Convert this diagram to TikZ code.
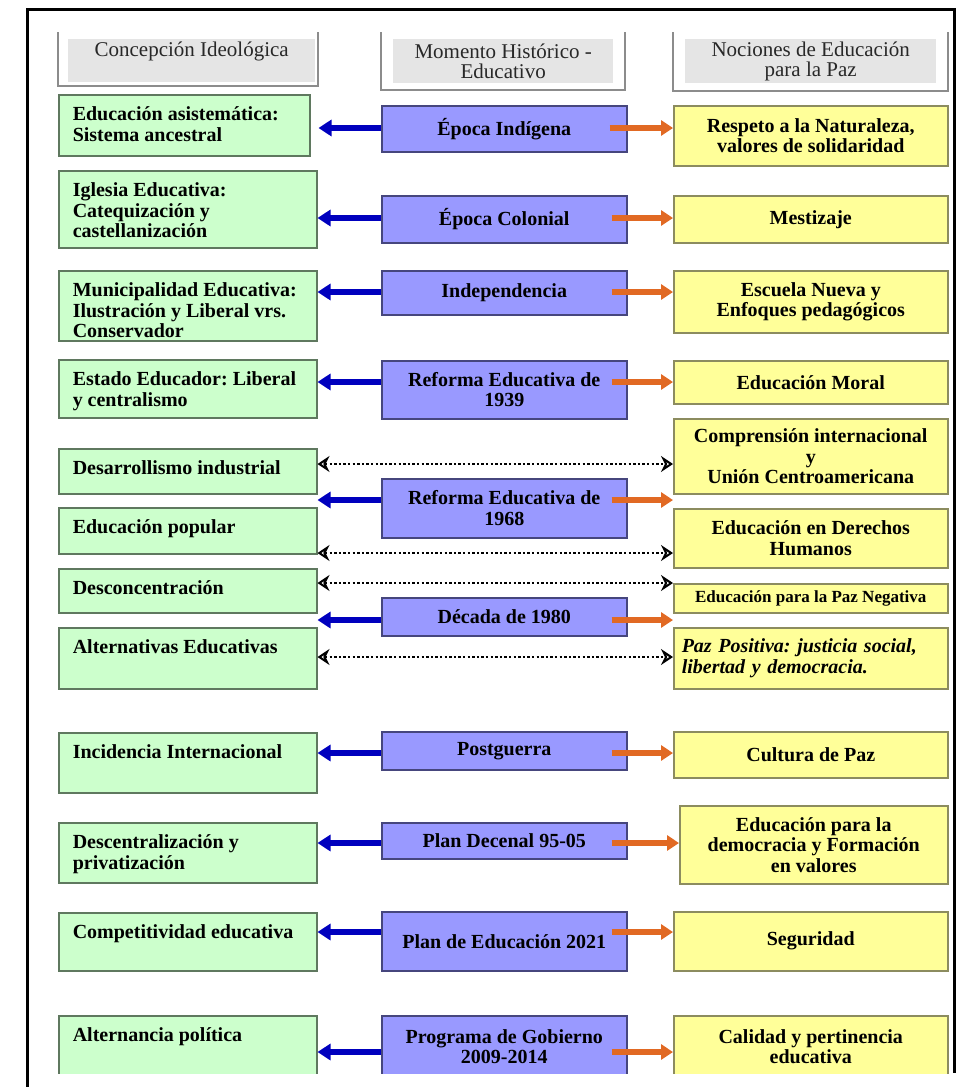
\documentclass[tikz,border=0pt]{standalone}
\usepackage{fontspec}
\setmainfont{Liberation Serif}
\usetikzlibrary{arrows.meta}
\frenchspacing

\definecolor{ideafill}{RGB}{204,255,204}
\definecolor{ideadraw}{RGB}{95,120,95}
\definecolor{epochfill}{RGB}{153,153,255}
\definecolor{epochdraw}{RGB}{70,70,125}
\definecolor{peacefill}{RGB}{255,255,153}
\definecolor{peacedraw}{RGB}{140,140,95}
\definecolor{headfill}{RGB}{229,229,229}
\definecolor{headline}{RGB}{140,140,140}
\definecolor{headtext}{RGB}{40,40,40}
\definecolor{leftblue}{RGB}{0,0,190}
\definecolor{rightorange}{RGB}{225,105,35}

\newcommand\ideatext[3]{\parbox[c][#1pt][t]{#2pt}{\raggedright\leftskip=14pt\rule{0pt}{26pt}#3}}

\tikzset{
  cell/.style={anchor=north west, inner sep=0pt, line width=1.5pt, font=\bfseries\fontsize{20}{20.5}\selectfont},
  idea/.style={cell, draw=ideadraw, fill=ideafill},
  epoch/.style={cell, draw=epochdraw, fill=epochfill, align=center, minimum width=245pt},
  peace/.style={cell, draw=peacedraw, fill=peacefill, align=center, minimum width=274pt},
  colhead/.style={anchor=north west, inner sep=0pt, fill=headfill, text=headtext, align=center, font=\fontsize{21}{20.5}\selectfont},
  headframe/.style={draw=headline, line width=2pt},
  toleft/.style={draw=leftblue, line width=6.5pt, -{Triangle[length=13pt,width=16pt]}},
  toright/.style={draw=rightorange, line width=6pt, -{Triangle[length=12pt,width=15pt]}},
  linked/.style={line width=2.4pt, dash pattern=on 2.4pt off 2.2pt, {Stealth[open,length=12pt,width=16pt]}-{Stealth[open,length=12pt,width=16pt]}},
  pageframe/.style={line width=3pt}
}

\begin{document}
\begin{tikzpicture}[x=1pt,y=-1pt]
    \useasboundingbox (0,0) rectangle (958,1087);
    \draw[pageframe] (27,1087) -- (27,9) -- (954,9) -- (954,1073);

    \begin{scope}
    \clip (0,0) rectangle (958,1073);
    % column headings
    \node[colhead, minimum width=247pt, minimum height=43pt, text height=17pt, text depth=26pt] (hideas) at (68,39) {Concepción Ideológica};
    \node[colhead, minimum width=220pt, minimum height=44pt] (hmoments) at (393,39) {Momento Histórico -\\Educativo};
    \node[colhead, minimum width=251pt, minimum height=44pt] (hnotions) at (685,39) {Nociones de Educación\\para la Paz};
    \draw[headframe] (58,32) |- (318,86) -- (318,32);
    \draw[headframe] (381,32) |- (625,90) -- (625,32);
    \draw[headframe] (673,32) |- (948,91) -- (948,32);

    % concepción ideológica
    \node[idea] (g1) at (58,94) {\ideatext{61}{251}{Educación asistemática:\\Sistema ancestral}};
    \node[idea] (g2) at (58,170) {\ideatext{77}{258}{Iglesia Educativa:\\Catequización y\\castellanización}};
    \node[idea] (g3) at (58,270) {\ideatext{70}{258}{Municipalidad Educativa:\\Ilustración y Liberal vrs.\\Conservador}};
    \node[idea] (g4) at (58,359) {\ideatext{58}{258}{Estado Educador: Liberal\\y centralismo}};
    \node[idea] (g5) at (58,448) {\ideatext{45}{258}{Desarrollismo industrial}};
    \node[idea] (g6) at (58,507) {\ideatext{46}{258}{Educación popular}};
    \node[idea] (g7) at (58,568) {\ideatext{44}{258}{Desconcentración}};
    \node[idea] (g8) at (58,627) {\ideatext{61}{258}{Alternativas Educativas}};
    \node[idea] (g9) at (58,732) {\ideatext{60}{258}{Incidencia Internacional}};
    \node[idea] (g10) at (58,822) {\ideatext{60}{258}{Descentralización y\\privatización}};
    \node[idea] (g11) at (58,912) {\ideatext{58}{258}{Competitividad educativa}};
    \node[idea] (g12) at (58,1015) {\ideatext{70}{258}{Alternancia política}};

    % momento histórico
    \node[epoch, minimum height=46pt] (p1) at (381,105) {Época Indígena};
    \node[epoch, minimum height=47pt] (p2) at (381,195) {Época Colonial};
    \node[epoch, minimum height=44pt] (p3) at (381,270) {Independencia};
    \node[epoch, minimum height=58pt] (p4) at (381,360) {Reforma Educativa de\\1939};
    \node[epoch, minimum height=59pt] (p5) at (381,478) {Reforma Educativa de\\1968};
    \node[epoch, minimum height=38pt] (p6) at (381,597) {Década de 1980};
    \node[epoch, minimum height=38pt] (p7) at (381,731) {Postguerra};
    \node[epoch, minimum height=36pt] (p8) at (381,822) {Plan Decenal 95-05};
    \node[epoch, minimum height=59pt] (p9) at (381,911) {Plan de Educación 2021};
    \node[epoch, minimum height=62pt] (p10) at (381,1015) {Programa de Gobierno\\2009-2014};

    % nociones de educación para la paz
    \node[peace, minimum height=60pt] (y1) at (673,105) {Respeto a la Naturaleza,\\valores de solidaridad};
    \node[peace, minimum height=47pt] (y2) at (673,195) {Mestizaje};
    \node[peace, minimum height=62pt] (y3) at (673,270) {Escuela Nueva y\\Enfoques pedagógicos};
    \node[peace, minimum height=43pt] (y4) at (673,360) {Educación Moral};
    \node[peace, minimum height=75pt] (y5) at (673,418) {Comprensión internacional\\y\\Unión Centroamericana};
    \node[peace, minimum height=59pt] (y6) at (673,508) {Educación en Derechos\\Humanos};
    \node[peace, minimum height=29pt, font=\bfseries\fontsize{17}{18}\selectfont] (y7) at (673,583) {Educación para la Paz Negativa};
    \node[peace, minimum height=61pt, text width=258pt, inner xsep=8pt, align=left, font=\bfseries\itshape\fontsize{20}{20.5}\selectfont] (y8) at (673,627) {Paz Positiva: justicia social,\\libertad y democracia.};
    \node[peace, minimum height=46pt] (y9) at (673,731) {Cultura de Paz};
    \node[peace, minimum width=268pt, minimum height=78pt] (y10) at (679,805) {Educación para la\\democracia y Formación\\en valores};
    \node[peace, minimum height=59pt] (y11) at (673,911) {Seguridad};
    \node[peace, minimum height=62pt] (y12) at (673,1015) {Calidad y pertinencia\\educativa};

    \coordinate (r1) at (0,128);
    \coordinate (r2) at (0,218);
    \coordinate (r3) at (0,292);
    \coordinate (r4) at (0,382);
    \coordinate (r5) at (0,500);
    \coordinate (r6) at (0,620);
    \coordinate (r7) at (0,753);
    \coordinate (r8) at (0,843);
    \coordinate (r9) at (0,932);
    \coordinate (r10) at (0,1052);
    \coordinate (d1) at (0,464);
    \coordinate (d2) at (0,553);
    \coordinate (d3) at (0,583);
    \coordinate (d4) at (0,657);

    \draw[toleft] (p1.west |- r1) -- ([xshift=8pt]g1.east |- r1);
    \draw[toleft] (p2.west |- r2) -- (g2.east |- r2);
    \draw[toleft] (p3.west |- r3) -- (g3.east |- r3);
    \draw[toleft] (p4.west |- r4) -- (g4.east |- r4);
    \draw[toleft] (p5.west |- r5) -- (g6.east |- r5);
    \draw[toleft] (p6.west |- r6) -- (g7.east |- r6);
    \draw[toleft] (p7.west |- r7) -- (g9.east |- r7);
    \draw[toleft] (p8.west |- r8) -- (g10.east |- r8);
    \draw[toleft] (p9.west |- r9) -- (g11.east |- r9);
    \draw[toleft] (p10.west |- r10) -- (g12.east |- r10);

    \draw[toright] ([xshift=-18pt]p1.east |- r1) -- (y1.west |- r1);
    \draw[toright] ([xshift=-16pt]p2.east |- r2) -- (y2.west |- r2);
    \draw[toright] ([xshift=-16pt]p3.east |- r3) -- (y3.west |- r3);
    \draw[toright] ([xshift=-16pt]p4.east |- r4) -- (y4.west |- r4);
    \draw[toright] ([xshift=-16pt]p5.east |- r5) -- (y6.west |- r5);
    \draw[toright] ([xshift=-16pt]p6.east |- r6) -- (y8.west |- r6);
    \draw[toright] ([xshift=-16pt]p7.east |- r7) -- (y9.west |- r7);
    \draw[toright] ([xshift=-16pt]p8.east |- r8) -- (y10.west |- r8);
    \draw[toright] ([xshift=-16pt]p9.east |- r9) -- (y11.west |- r9);
    \draw[toright] ([xshift=-16pt]p10.east |- r10) -- (y12.west |- r10);

    \draw[linked] (g5.east |- d1) -- (y5.west |- d1);
    \draw[linked] (g6.east |- d2) -- (y6.west |- d2);
    \draw[linked] (g7.east |- d3) -- (y7.west |- d3);
    \draw[linked] (g8.east |- d4) -- (y8.west |- d4);
    \end{scope}
\end{tikzpicture}
\end{document}
